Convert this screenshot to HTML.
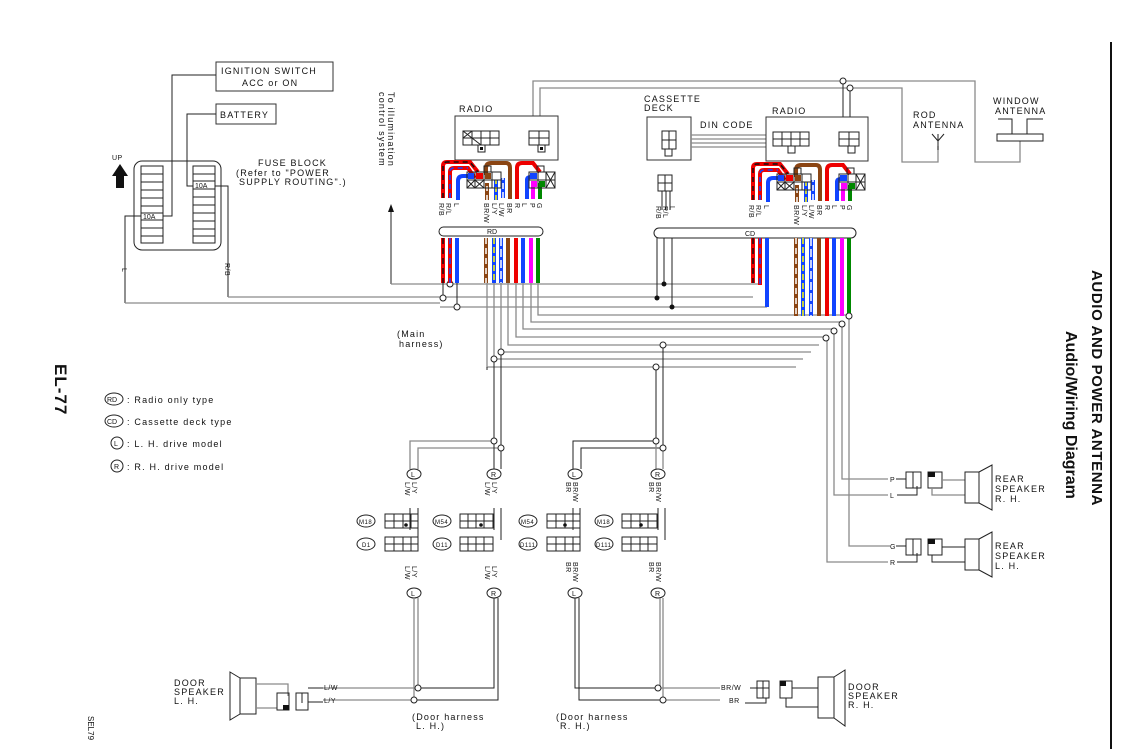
<!DOCTYPE html>
<html><head><meta charset="utf-8"><style>
html,body{margin:0;padding:0;background:#fff;}
svg{display:block;}
text{font-family:"Liberation Sans",sans-serif;fill:#111;}
.t{font-size:9px;letter-spacing:1.2px;}
.s{font-size:7px;letter-spacing:0.5px;}
.k{stroke:#222;stroke-width:1;fill:none;}
.g{stroke:#8a8a8a;stroke-width:1.3;fill:none;}
.bx{stroke:#333;stroke-width:1;fill:#fff;}
.c{fill:#fff;stroke:#222;stroke-width:1;}
</style></head><body>
<svg width="1143" height="749" viewBox="0 0 1143 749" xmlns="http://www.w3.org/2000/svg">
<rect width="1143" height="749" fill="#fff"/>
<!-- right border & titles -->
<line x1="1111" y1="42" x2="1111" y2="749" stroke="#111" stroke-width="2"/>
<text transform="translate(1092,270) rotate(90)" style="font-size:15px;font-weight:bold;letter-spacing:0.6px">AUDIO AND POWER ANTENNA</text>
<text transform="translate(1066,331) rotate(90)" style="font-size:16px;font-weight:bold">Audio/Wiring Diagram</text>
<text transform="translate(55,364) rotate(90)" style="font-size:17px;font-weight:bold;letter-spacing:1px">EL-77</text>
<text transform="translate(88,716) rotate(90)" style="font-size:8px">SEL79</text>

<!-- ignition / battery / fuse block -->
<rect x="216" y="62" width="117" height="29" class="bx"/>
<text x="221" y="74" class="t">IGNITION SWITCH</text>
<text x="242" y="86" class="t">ACC or ON</text>
<rect x="216" y="104" width="60" height="20" class="bx"/>
<text x="220" y="118" class="t">BATTERY</text>
<path d="M216,75 H172 V216 H163" class="k"/>
<path d="M216,114 H187 V186 H193" class="k"/>
<rect x="134" y="161" width="87" height="89" rx="8" class="k"/>
<g class="k">
<rect x="141" y="166" width="22" height="77"/>
<rect x="193" y="166" width="22" height="77"/>
<path d="M141,174H163M141,182H163M141,190H163M141,198H163M141,206H163M141,213H163M141,220H163M141,228H163M141,236H163"/>
<path d="M193,174H215M193,181H215M193,189H215M193,197H215M193,205H215M193,213H215M193,221H215M193,229H215M193,236H215"/>
</g>
<text x="143" y="219" style="font-size:7px">10A</text>
<text x="195" y="188" style="font-size:7px">10A</text>
<path d="M112,176 L120,164 L128,176 H124 V188 H116 V176 Z" fill="#111"/>
<text x="112" y="160" class="s">UP</text>
<text x="258" y="166" class="t">FUSE BLOCK</text>
<text x="236" y="176" class="t">(Refer to "POWER</text>
<text x="239" y="185" class="t">SUPPLY ROUTING".)</text>
<path d="M141,216 H125 V303" class="k"/>
<text transform="translate(122,268) rotate(90)" class="s">L</text>
<path d="M215,186 H228 V297" class="k"/>
<text transform="translate(225,263) rotate(90)" class="s">R/B</text>

<!-- legend -->
<g style="font-size:9px">
<ellipse cx="114" cy="399" rx="9" ry="6" class="c"/><text x="107" y="402" style="font-size:7px">RD</text><text x="127" y="403" class="t">: Radio only type</text>
<ellipse cx="114" cy="421" rx="9" ry="6" class="c"/><text x="107" y="424" style="font-size:7px">CD</text><text x="127" y="425" class="t">: Cassette deck type</text>
<circle cx="117" cy="443" r="6" class="c"/><text x="114" y="446" style="font-size:7px">L</text><text x="127" y="447" class="t">: L. H. drive model</text>
<circle cx="117" cy="466" r="6" class="c"/><text x="114" y="469" style="font-size:7px">R</text><text x="127" y="470" class="t">: R. H. drive model</text>
</g>

<!-- illumination -->
<text transform="translate(388,92) rotate(90)" class="t">To illumination</text>
<text transform="translate(379,92) rotate(90)" class="t">control system</text>
<path d="M391,284 V210" class="k"/><path d="M388,212 L391,204 L394,212 Z" fill="#111"/>

<!-- top antenna wiring -->
<path d="M533,116 V81 H975 V162 H1020 V141" class="g"/>
<path d="M540,116 V88 H902 V162 H938 V146" class="g"/>
<path d="M843,81 V117 M850,88 V117" class="k"/>
<circle cx="843" cy="81" r="3" class="c"/><circle cx="850" cy="88" r="3" class="c"/>
<text x="913" y="118" class="t">ROD</text><text x="913" y="128" class="t">ANTENNA</text>
<path d="M932,134 L938,141 L944,134 M938,134 V150" class="k"/>
<text x="993" y="104" class="t">WINDOW</text><text x="995" y="114" class="t">ANTENNA</text>
<path d="M998,119 H1012 V134 M1043,119 H1027 V134" class="k"/>
<rect x="997" y="134" width="46" height="7" class="k"/>

<!-- radio boxes -->
<text x="459" y="112" class="t">RADIO</text>
<rect x="455" y="116" width="103" height="44" class="bx"/>
<g class="k"><rect x="463" y="131" width="36" height="14"/><path d="M463,138H499M472,131V145M481,131V145M490,131V145M463,131L481,145M472,131L463,138"/>
<rect x="478" y="145" width="7" height="7"/><rect x="529" y="131" width="20" height="14"/><path d="M529,138H549M539,131V145"/><rect x="538" y="145" width="7" height="7"/></g>
<rect x="480" y="147" width="3" height="3" fill="#111"/><rect x="540" y="147" width="3" height="3" fill="#111"/>
<text x="644" y="102" class="t">CASSETTE</text><text x="644" y="111" class="t">DECK</text>
<rect x="647" y="117" width="44" height="43" class="bx"/>
<g class="k"><rect x="662" y="131" width="14" height="18"/><path d="M662,140H676M669,131V149"/><rect x="665" y="149" width="7" height="7"/></g>
<text x="700" y="128" class="t">DIN CODE</text>
<path d="M691,135H766M691,139H766M691,143H766M691,147H766" class="g"/>
<text x="772" y="114" class="t">RADIO</text>
<rect x="766" y="117" width="102" height="44" class="bx"/>
<g class="k"><rect x="773" y="132" width="36" height="14"/><path d="M773,139H809M782,132V146M791,132V146M800,132V146"/><rect x="788" y="146" width="7" height="7"/>
<rect x="839" y="132" width="20" height="14"/><path d="M839,139H859M849,132V146"/><rect x="848" y="146" width="7" height="7"/></g>
<g class="k"><rect x="658" y="175" width="14" height="16"/><path d="M658,183H672M665,175V191M662,191V210M666,191V210M670,191V210"/></g>
<text transform="translate(656,206) rotate(90)" class="s">R/B</text>
<text transform="translate(663,206) rotate(90)" class="s">R/L</text>
<text transform="translate(670,206) rotate(90)" class="s">L</text>

<!-- connector clusters -->
<g id="cl">
<g fill="none" stroke-linecap="butt">
<path d="M443,198 V166 Q443,162 447,162 H470 L478,172" stroke="#e00" stroke-width="4"/>
<path d="M443,198 V166 Q443,162 447,162 H470 L478,172" stroke="#111" stroke-width="1.5" stroke-dasharray="5,4"/>
<path d="M450,198 V172 Q450,168 454,168 H468 L475,178" stroke="#e00" stroke-width="4"/>
<path d="M450,198 V172 Q450,168 454,168 H468" stroke="#14f" stroke-width="1.5" stroke-dasharray="5,4"/>
<path d="M458,200 V181 Q458,176 463,176 H468" stroke="#14f" stroke-width="4"/>
<path d="M487,200 V183" stroke="#8b4513" stroke-width="4"/>
<path d="M487,200 V183" stroke="#fff" stroke-width="1.5" stroke-dasharray="5,4"/>
<path d="M496,200 V180" stroke="#14f" stroke-width="4"/><path d="M496,200 V180" stroke="#ff0" stroke-width="1.5" stroke-dasharray="5,3"/>
<path d="M503,198 V178" stroke="#14f" stroke-width="4"/><path d="M503,198 V178" stroke="#fff" stroke-width="1.5" stroke-dasharray="6,3"/>
<path d="M486,175 V168 Q486,163 491,163 H506 Q510,163 510,168 V199" stroke="#8b4513" stroke-width="4"/>
<path d="M517,199 V168 Q517,163 522,163 H533 L540,172" stroke="#e00" stroke-width="4"/>
<path d="M527,199 V180 Q527,177 531,177" stroke="#14f" stroke-width="4"/>
<path d="M533,199 V183" stroke="#f0f" stroke-width="4"/>
<path d="M540,199 V183" stroke="#080" stroke-width="4"/>
</g>
<g class="k"><rect x="467" y="172" width="34" height="16"/><path d="M467,180H501M475,172V188M484,172V188M492,172V188M467,180L475,188M475,180L467,188M475,180L484,188M484,180L475,188"/>
<rect x="484" y="166" width="7" height="6"/>
<rect x="529" y="172" width="26" height="16"/><path d="M529,180H555M538,172V188M546,172V188M546,172L555,188M555,172L546,188"/><rect x="537" y="166" width="7" height="6"/></g>
<rect x="468" y="173" width="6" height="6" fill="#14f"/><rect x="476" y="173" width="7" height="6" fill="#e00"/><rect x="485" y="173" width="6" height="6" fill="#8b4513"/>
<rect x="530" y="173" width="7" height="6" fill="#14f"/><rect x="531" y="181" width="6" height="6" fill="#f0f"/><rect x="539" y="181" width="6" height="6" fill="#080"/>
<g class="s">
<text transform="translate(439,203) rotate(90)">R/B</text>
<text transform="translate(446,203) rotate(90)">R/L</text>
<text transform="translate(454,203) rotate(90)">L</text>
<text transform="translate(484,203) rotate(90)">BR/W</text>
<text transform="translate(492,203) rotate(90)">L/Y</text>
<text transform="translate(499,203) rotate(90)">L/W</text>
<text transform="translate(507,203) rotate(90)">BR</text>
<text transform="translate(515,203) rotate(90)">R</text>
<text transform="translate(522,203) rotate(90)">L</text>
<text transform="translate(530,203) rotate(90)">P</text>
<text transform="translate(537,203) rotate(90)">G</text>
</g>
</g>
<g transform="translate(310,2)">
<g fill="none">
<path d="M443,198 V166 Q443,162 447,162 H470 L478,172" stroke="#e00" stroke-width="4"/>
<path d="M443,198 V166 Q443,162 447,162 H470 L478,172" stroke="#111" stroke-width="1.5" stroke-dasharray="5,4"/>
<path d="M450,198 V172 Q450,168 454,168 H468 L475,178" stroke="#e00" stroke-width="4"/>
<path d="M450,198 V172 Q450,168 454,168 H468" stroke="#14f" stroke-width="1.5" stroke-dasharray="5,4"/>
<path d="M458,200 V181 Q458,176 463,176 H468" stroke="#14f" stroke-width="4"/>
<path d="M487,200 V183" stroke="#8b4513" stroke-width="4"/><path d="M487,200 V183" stroke="#fff" stroke-width="1.5" stroke-dasharray="5,4"/>
<path d="M496,200 V180" stroke="#14f" stroke-width="4"/><path d="M496,200 V180" stroke="#ff0" stroke-width="1.5" stroke-dasharray="5,3"/>
<path d="M503,198 V178" stroke="#14f" stroke-width="4"/><path d="M503,198 V178" stroke="#fff" stroke-width="1.5" stroke-dasharray="6,3"/>
<path d="M486,175 V168 Q486,163 491,163 H506 Q510,163 510,168 V199" stroke="#8b4513" stroke-width="4"/>
<path d="M517,199 V168 Q517,163 522,163 H533 L540,172" stroke="#e00" stroke-width="4"/>
<path d="M527,199 V180 Q527,177 531,177" stroke="#14f" stroke-width="4"/>
<path d="M533,199 V183" stroke="#f0f" stroke-width="4"/>
<path d="M540,199 V183" stroke="#080" stroke-width="4"/>
</g>
<g class="k"><rect x="467" y="172" width="34" height="16"/><path d="M467,180H501M475,172V188M484,172V188M492,172V188M467,180L475,188M475,180L467,188M475,180L484,188M484,180L475,188"/>
<rect x="484" y="166" width="7" height="6"/>
<rect x="529" y="172" width="26" height="16"/><path d="M529,180H555M538,172V188M546,172V188M546,172L555,188M555,172L546,188"/><rect x="537" y="166" width="7" height="6"/></g>
<rect x="468" y="173" width="6" height="6" fill="#14f"/><rect x="476" y="173" width="7" height="6" fill="#e00"/><rect x="485" y="173" width="6" height="6" fill="#8b4513"/>
<rect x="530" y="173" width="7" height="6" fill="#14f"/><rect x="531" y="181" width="6" height="6" fill="#f0f"/><rect x="539" y="181" width="6" height="6" fill="#080"/>
<g class="s">
<text transform="translate(439,203) rotate(90)">R/B</text>
<text transform="translate(446,203) rotate(90)">R/L</text>
<text transform="translate(454,203) rotate(90)">L</text>
<text transform="translate(484,203) rotate(90)">BR/W</text>
<text transform="translate(492,203) rotate(90)">L/Y</text>
<text transform="translate(499,203) rotate(90)">L/W</text>
<text transform="translate(507,203) rotate(90)">BR</text>
<text transform="translate(515,203) rotate(90)">R</text>
<text transform="translate(522,203) rotate(90)">L</text>
<text transform="translate(530,203) rotate(90)">P</text>
<text transform="translate(537,203) rotate(90)">G</text>
</g>
</g>

<!-- bundle bars -->
<rect x="439" y="227" width="104" height="9" rx="4.5" class="k" fill="#fff"/>
<text x="487" y="234" style="font-size:7px">RD</text>
<rect x="654" y="228" width="202" height="10" rx="5" class="k" fill="#fff"/>
<text x="745" y="236" style="font-size:7px">CD</text>

<!-- power lines -->
<path d="M391,284 H760" class="g"/>
<path d="M228,297 H753" class="g"/>
<path d="M125,303 H440 M440,307 H767" class="g"/>
<path d="M443,283 V298 M450,283 V284 M457,283 V307" class="k"/>
<path d="M664,238 V284 M657,238 V298 M672,238 V307" class="k"/>
<circle cx="450" cy="284" r="3" class="c"/><circle cx="443" cy="298" r="3" class="c"/><circle cx="457" cy="307" r="3" class="c"/>
<circle cx="664" cy="284" r="2.5" fill="#111"/><circle cx="657" cy="298" r="2.5" fill="#111"/><circle cx="672" cy="307" r="2.5" fill="#111"/>

<!-- signal routing -->
<g class="g">
<path d="M538,283 V315 H849"/>
<path d="M531,283 V322 H842"/>
<path d="M523,283 V329 H834"/>
<path d="M516,283 V337 H827"/>
<path d="M508,283 V345 H819"/>
<path d="M501,283 V352 H811"/>
<path d="M494,283 V359 H803"/>
<path d="M487,283 V367 H796"/>
</g>
<path d="M487,367 V370" class="k"/>
<!-- door branches -->
<path d="M494,359 V441 M501,352 V448" class="k"/>
<path d="M656,367 V441 M663,345 V448" class="k"/>
<circle cx="494" cy="359" r="3" class="c"/><circle cx="501" cy="352" r="3" class="c"/>
<circle cx="656" cy="367" r="3" class="c"/><circle cx="663" cy="345" r="3" class="c"/>
<text x="397" y="337" class="t">(Main</text><text x="399" y="347" class="t">harness)</text>
<!-- rear speaker verticals -->
<path d="M849,315 V546 H890" class="g"/>
<path d="M842,322 V479 H888" class="g"/>
<path d="M834,329 V495 H888" class="g"/>
<path d="M827,337 V562 H888" class="g"/>
<circle cx="849" cy="316" r="3" class="c"/><circle cx="842" cy="324" r="3" class="c"/><circle cx="834" cy="331" r="3" class="c"/><circle cx="826" cy="338" r="3" class="c"/>

<!-- colored wire drops -->
<g fill="none">
<path d="M443,238 V283" stroke="#e00" stroke-width="4"/><path d="M443,238 V283" stroke="#111" stroke-width="1.5" stroke-dasharray="6,4"/>
<path d="M450,238 V283" stroke="#e00" stroke-width="4"/><path d="M450,238 V283" stroke="#14f" stroke-width="1.5" stroke-dasharray="6,4"/>
<path d="M457,238 V283" stroke="#14f" stroke-width="4"/>
<path d="M486,238 V283" stroke="#8b4513" stroke-width="4"/><path d="M486,238 V283" stroke="#fff" stroke-width="1.5" stroke-dasharray="6,4"/>
<path d="M494,238 V283" stroke="#14f" stroke-width="4"/><path d="M494,238 V283" stroke="#ff0" stroke-width="1.5" stroke-dasharray="6,3"/>
<path d="M501,238 V283" stroke="#14f" stroke-width="4"/><path d="M501,238 V283" stroke="#fff" stroke-width="1.5" stroke-dasharray="8,3"/>
<path d="M508,238 V283" stroke="#8b4513" stroke-width="4"/>
<path d="M516,238 V283" stroke="#e00" stroke-width="4"/>
<path d="M523,238 V283" stroke="#14f" stroke-width="4"/>
<path d="M531,238 V283" stroke="#f0f" stroke-width="4"/>
<path d="M538,238 V283" stroke="#080" stroke-width="4"/>
<path d="M753,238 V283" stroke="#e00" stroke-width="4"/><path d="M753,238 V283" stroke="#111" stroke-width="1.5" stroke-dasharray="6,4"/>
<path d="M760,238 V285" stroke="#e00" stroke-width="4"/><path d="M760,238 V285" stroke="#14f" stroke-width="1.5" stroke-dasharray="6,4"/>
<path d="M767,238 V307" stroke="#14f" stroke-width="4"/>
<path d="M796,238 V316" stroke="#8b4513" stroke-width="4"/><path d="M796,238 V316" stroke="#fff" stroke-width="1.5" stroke-dasharray="6,4"/>
<path d="M803,238 V316" stroke="#14f" stroke-width="4"/><path d="M803,238 V316" stroke="#ff0" stroke-width="1.5" stroke-dasharray="6,3"/>
<path d="M811,238 V316" stroke="#14f" stroke-width="4"/><path d="M811,238 V316" stroke="#fff" stroke-width="1.5" stroke-dasharray="8,3"/>
<path d="M819,238 V316" stroke="#8b4513" stroke-width="4"/>
<path d="M827,238 V316" stroke="#e00" stroke-width="4"/>
<path d="M834,238 V316" stroke="#14f" stroke-width="4"/>
<path d="M842,238 V316" stroke="#f0f" stroke-width="4"/>
<path d="M849,238 V313" stroke="#080" stroke-width="4"/>
</g>

<!-- door harness upper -->
<path d="M494,441 H410 V469 M501,448 H418 V469" class="g"/>
<path d="M494,441 V469 M501,448 V469" class="k"/>
<circle cx="494" cy="441" r="3" class="c"/><circle cx="501" cy="448" r="3" class="c"/>
<path d="M656,441 H573 V469 M663,448 H581 V469" class="k"/>
<path d="M656,441 V469 M663,448 V469" class="g"/>
<circle cx="656" cy="441" r="3" class="c"/><circle cx="663" cy="448" r="3" class="c"/>
<g>
<ellipse cx="414" cy="474" rx="7" ry="5" class="c"/><text x="411" y="477" class="s">L</text>
<ellipse cx="494" cy="474" rx="7" ry="5" class="c"/><text x="491" y="477" class="s">R</text>
<ellipse cx="575" cy="474" rx="7" ry="5" class="c"/><text x="572" y="477" class="s">L</text>
<ellipse cx="658" cy="474" rx="7" ry="5" class="c"/><text x="655" y="477" class="s">R</text>
<ellipse cx="414" cy="593" rx="7" ry="5" class="c"/><text x="411" y="596" class="s">L</text>
<ellipse cx="494" cy="593" rx="7" ry="5" class="c"/><text x="491" y="596" class="s">R</text>
<ellipse cx="575" cy="593" rx="7" ry="5" class="c"/><text x="572" y="596" class="s">L</text>
<ellipse cx="658" cy="593" rx="7" ry="5" class="c"/><text x="655" y="596" class="s">R</text>
</g>
<g class="s">
<text transform="translate(405,482) rotate(90)">L/W</text><text transform="translate(412,482) rotate(90)">L/Y</text>
<text transform="translate(485,482) rotate(90)">L/W</text><text transform="translate(492,482) rotate(90)">L/Y</text>
<text transform="translate(566,482) rotate(90)">BR</text><text transform="translate(573,482) rotate(90)">BR/W</text>
<text transform="translate(649,482) rotate(90)">BR</text><text transform="translate(656,482) rotate(90)">BR/W</text>
<text transform="translate(405,566) rotate(90)">L/W</text><text transform="translate(412,566) rotate(90)">L/Y</text>
<text transform="translate(485,566) rotate(90)">L/W</text><text transform="translate(492,566) rotate(90)">L/Y</text>
<text transform="translate(566,562) rotate(90)">BR</text><text transform="translate(573,562) rotate(90)">BR/W</text>
<text transform="translate(649,562) rotate(90)">BR</text><text transform="translate(656,562) rotate(90)">BR/W</text>
</g>
<!-- in-line connectors -->
<g class="k">
<ellipse cx="366" cy="521" rx="9" ry="6"/><ellipse cx="366" cy="544" rx="9" ry="6"/>
<ellipse cx="442" cy="521" rx="9" ry="6"/><ellipse cx="442" cy="544" rx="9" ry="6"/>
<ellipse cx="528" cy="521" rx="9" ry="6"/><ellipse cx="528" cy="544" rx="9" ry="6"/>
<ellipse cx="604" cy="521" rx="9" ry="6"/><ellipse cx="604" cy="544" rx="9" ry="6"/>
<rect x="385" y="514" width="33" height="14"/><path d="M385,521H418M394,514V528M403,514V528M411,514V528"/>
<rect x="385" y="537" width="33" height="14"/><path d="M385,544H418M394,537V551M403,537V551M411,537V551"/>
<rect x="460" y="514" width="33" height="14"/><path d="M460,521H493M468,514V528M476,514V528M484,514V528"/>
<rect x="460" y="537" width="33" height="14"/><path d="M460,544H493M468,537V551M476,537V551M484,537V551"/>
<rect x="547" y="514" width="33" height="14"/><path d="M547,521H580M556,514V528M565,514V528M573,514V528"/>
<rect x="547" y="537" width="33" height="14"/><path d="M547,544H580M556,537V551M565,537V551M573,537V551"/>
<rect x="622" y="514" width="35" height="14"/><path d="M622,521H657M631,514V528M640,514V528M648,514V528"/>
<rect x="622" y="537" width="35" height="14"/><path d="M622,544H657M631,537V551M640,537V551M648,537V551"/>
</g>
<g class="s" style="font-size:6px">
<text x="359" y="524">M18</text><text x="362" y="547">D1</text>
<text x="435" y="524">M54</text><text x="436" y="547">D11</text>
<text x="521" y="524">M54</text><text x="520" y="547">D111</text>
<text x="597" y="524">M18</text><text x="596" y="547">D111</text>
</g>
<circle cx="406" cy="525" r="1.8" fill="#111"/><circle cx="481" cy="525" r="1.8" fill="#111"/><circle cx="565" cy="525" r="1.8" fill="#111"/><circle cx="641" cy="525" r="1.8" fill="#111"/>
<path d="M410,508V530M418,508V540M494,508V530M501,508V540M573,508V530M580,508V540M658,508V530M665,508V540" class="k"/>

<!-- door lower -->
<path d="M414,598 V700 H323 M418,598 V688" class="g"/>
<path d="M418,688 H323" class="g"/>
<path d="M494,598 V688 H418 M498,598 V700 H414" class="k"/>
<circle cx="418" cy="688" r="3" class="c"/><circle cx="414" cy="700" r="3" class="c"/>
<path d="M575,598 V688 H660 M579,598 V700 H663" class="k"/>
<path d="M660,598 V688 H720 M663,598 V700 H720" class="g"/>
<circle cx="658" cy="688" r="3" class="c"/><circle cx="663" cy="700" r="3" class="c"/>
<text x="324" y="690" class="s">L/W</text><text x="324" y="703" class="s">L/Y</text>
<text x="721" y="690" class="s">BR/W</text><text x="729" y="703" class="s">BR</text>
<!-- left door speaker -->
<path d="M230,672 L240,678 V714 L230,720 Z M240,678 H256 V714 H240" class="k"/>
<path d="M256,684 H288 V696 M256,708 H277" class="g"/>
<rect x="277" y="693" width="12" height="17" class="k"/><rect x="283" y="705" width="6" height="5" fill="#111"/>
<rect x="296" y="693" width="12" height="17" class="k"/><path d="M302,693 V703 M308,688 H323 M308,702 H323" class="k"/>
<text x="174" y="686" class="t">DOOR</text><text x="174" y="695" class="t">SPEAKER</text><text x="174" y="704" class="t">L. H.</text>
<text x="412" y="720" class="t">(Door harness</text><text x="416" y="729" class="t">L. H.)</text>
<text x="556" y="720" class="t">(Door harness</text><text x="560" y="729" class="t">R. H.)</text>
<!-- right door speaker -->
<rect x="757" y="681" width="12" height="17" class="k"/><path d="M763,681V698M769,688H757" class="k"/>
<path d="M750,688 H757 M745,703 H766 V698" class="k"/>
<rect x="780" y="681" width="12" height="17" class="k"/><rect x="780" y="681" width="6" height="5" fill="#111"/>
<path d="M792,688 H818 M786,698 V707 H818" class="k"/>
<path d="M818,677 H834 V718 H818 Z M834,677 L845,670 V726 L834,718" class="k"/>
<text x="848" y="690" class="t">DOOR</text><text x="848" y="699" class="t">SPEAKER</text><text x="848" y="708" class="t">R. H.</text>

<!-- rear speakers -->
<g>
<text x="890" y="482" class="s">P</text><text x="890" y="498" class="s">L</text>
<path d="M896,479 H906 M897,495 H917 V486" class="k"/>
<rect x="906" y="472" width="15" height="16" class="k"/><path d="M913,472V488" class="k"/>
<rect x="928" y="472" width="14" height="16" class="k"/><rect x="928" y="472" width="7" height="5" fill="#111"/>
<path d="M942,480 H965 M932,488 V495 H965" class="g"/>
<path d="M965,472 H979 V503 H965 Z M979,472 L992,465 V510 L979,503" class="k"/>
<text x="995" y="482" class="t">REAR</text><text x="995" y="492" class="t">SPEAKER</text><text x="995" y="502" class="t">R. H.</text>
</g>
<g>
<text x="890" y="549" class="s">G</text><text x="890" y="565" class="s">R</text>
<path d="M896,546 H906 M897,562 H917 V553" class="k"/>
<rect x="906" y="539" width="15" height="16" class="k"/><path d="M913,539V555" class="k"/>
<rect x="928" y="539" width="14" height="16" class="k"/><rect x="928" y="539" width="7" height="5" fill="#111"/>
<path d="M942,547 H965 M932,555 V562 H965" class="k"/>
<path d="M965,539 H979 V570 H965 Z M979,539 L992,532 V577 L979,570" class="k"/>
<text x="995" y="549" class="t">REAR</text><text x="995" y="559" class="t">SPEAKER</text><text x="995" y="569" class="t">L. H.</text>
</g>
</svg>
</body></html>
